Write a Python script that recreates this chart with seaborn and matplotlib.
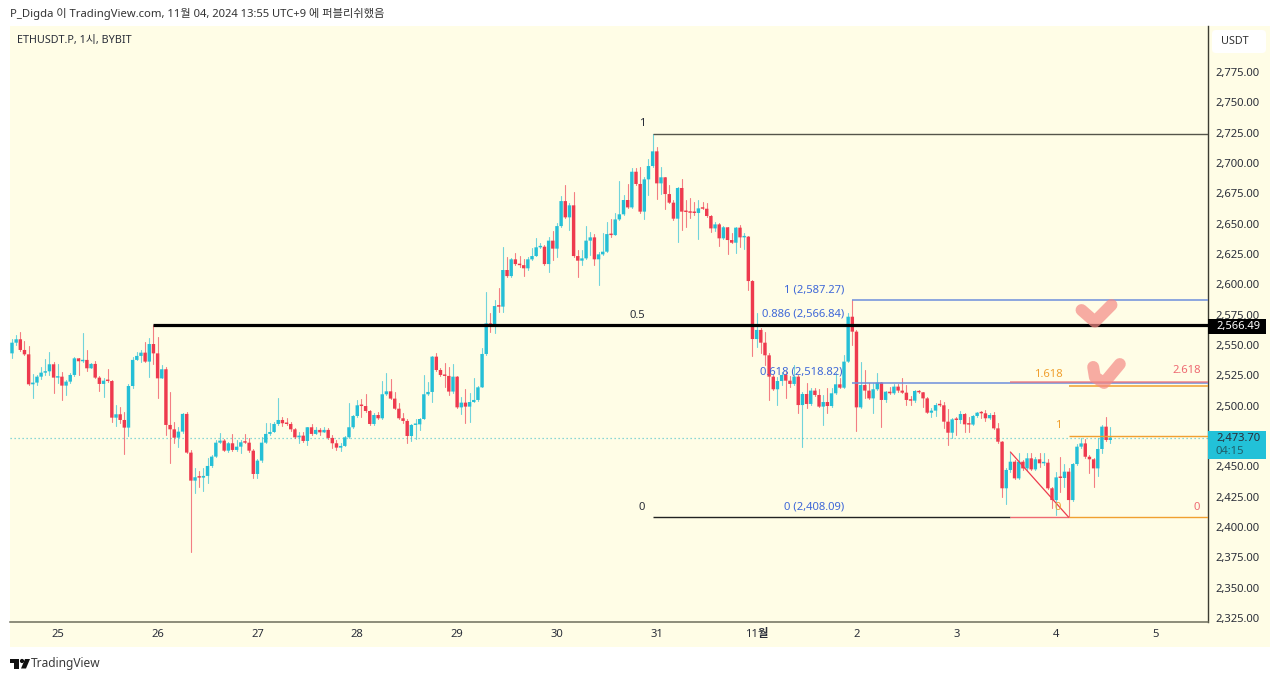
import numpy as np
import pandas as pd
import matplotlib
matplotlib.use("Agg")
import matplotlib.pyplot as plt
from matplotlib.patches import Rectangle, FancyBboxPatch, Polygon, Circle
from matplotlib.transforms import Affine2D
from matplotlib.ticker import FixedLocator, FixedFormatter
import seaborn as sns

first_open = 2543.1
closes = [
2551.9,2554.7,2545.9,2542.3,2517.6,2519.0,2523.9,2527.2,2528.3,2534.1,
2523.1,2523.9,2516.5,2519.8,2525.3,2539.0,2536.6,2537.7,2530.8,2534.4,
2523.1,2517.9,2520.6,2520.3,2490.1,2492.9,2488.2,2481.9,2516.2,2537.7,
2541.0,2543.7,2536.3,2550.8,2543.1,2522.5,2530.0,2484.1,2480.5,2473.6,
2478.6,2493.2,2461.3,2438.2,2441.0,2440.7,2442.1,2450.3,2458.0,2469.5,
2471.2,2462.9,2469.0,2463.5,2466.2,2469.8,2469.5,2462.9,2443.7,2454.7,
2469.5,2476.7,2478.3,2484.9,2488.2,2485.5,2484.9,2480.5,2473.9,2475.3,
2470.9,2482.2,2476.7,2480.0,2478.0,2480.0,2473.4,2469.0,2465.4,2466.8,
2473.9,2482.2,2491.5,2500.3,2499.7,2495.6,2484.9,2492.3,2489.6,2509.4,
2511.8,2505.8,2497.5,2489.6,2487.4,2475.0,2484.1,2484.6,2489.0,2509.4,
2511.3,2540.4,2529.4,2525.3,2524.5,2511.6,2523.9,2498.6,2502.5,2499.2,
2503.0,2504.7,2515.1,2542.6,2567.8,2566.5,2582.1,2581.6,2611.8,2606.8,
2620.6,2616.7,2615.8,2613.2,2620.6,2623.3,2630.5,2631.0,2616.7,2636.0,
2629.4,2648.0,2668.6,2655.2,2665.1,2623.3,2619.5,2621.4,2636.0,2638.7,
2620.6,2624.7,2626.9,2641.4,2640.6,2653.5,2657.7,2669.5,2663.4,2692.8,
2682.7,2659.9,2686.5,2697.5,2709.6,2683.2,2688.2,2674.4,2667.3,2654.1,
2679.4,2659.9,2659.6,2659.0,2658.8,2662.6,2662.3,2656.3,2646.1,2649.4,
2637.9,2647.0,2636.5,2634.3,2646.7,2638.7,2639.3,2602.7,2554.9,2562.4,
2551.9,2541.5,2523.9,2513.5,2520.3,2525.3,2520.6,2517.9,2523.9,2500.5,
2509.6,2501.4,2512.4,2508.8,2499.2,2503.0,2499.7,2510.2,2517.6,2514.8,
2536.3,2573.3,2561.0,2498.6,2517.0,2512.4,2506.0,2513.5,2519.0,2504.7,
2511.5,2510.2,2515.7,2512.4,2510.7,2504.7,2504.1,2512.1,2511.0,2506.0,
2494.2,2495.9,2500.5,2500.3,2486.8,2477.7,2488.7,2488.2,2493.1,2484.6,
2484.4,2491.5,2494.2,2493.7,2489.6,2492.3,2481.3,2470.3,2431.9,2447.0,
2453.8,2440.1,2453.8,2448.3,2456.6,2447.5,2455.8,2452.5,2453.0,2431.9,
2422.2,2440.9,2440.4,2445.6,2422.2,2451.9,2466.2,2468.9,2457.9,2455.8,
2448.3,2464.3,2482.7,2471.7,2473.7]
highs = [
2554.7,2558.3,2560.5,2553.6,2549.5,2526.1,2525.3,2532.2,2538.2,2544.0,
2536.3,2534.1,2528.0,2521.2,2527.2,2540.4,2539.0,2559.6,2545.9,2534.9,
2537.1,2524.5,2522.5,2530.2,2521.2,2500.6,2498.6,2495.1,2517.9,2540.4,
2544.5,2545.9,2552.8,2555.5,2566.5,2556.9,2533.5,2532.2,2511.6,2486.8,
2482.7,2494.3,2495.1,2463.5,2448.4,2446.4,2448.4,2456.6,2459.4,2471.7,
2477.2,2472.3,2470.4,2476.7,2471.7,2471.7,2476.4,2473.1,2464.0,2455.8,
2474.5,2485.5,2485.5,2486.8,2506.1,2491.0,2489.6,2486.8,2481.3,2478.6,
2478.6,2482.7,2484.9,2482.7,2481.3,2482.7,2481.3,2475.8,2471.7,2469.0,
2475.0,2502.0,2492.3,2504.7,2505.5,2509.6,2496.4,2493.7,2495.1,2520.6,
2526.7,2521.7,2511.6,2502.0,2493.7,2488.8,2484.9,2488.8,2489.6,2525.3,
2519.8,2541.0,2543.7,2530.8,2535.5,2532.2,2534.4,2524.5,2507.4,2513.5,
2510.2,2522.5,2516.2,2547.3,2593.9,2576.6,2587.1,2596.7,2631.0,2622.8,
2621.4,2625.5,2623.3,2620.6,2622.8,2629.6,2637.9,2633.8,2632.4,2639.3,
2644.2,2650.2,2672.8,2681.8,2666.7,2676.3,2628.3,2628.3,2648.0,2643.4,
2641.4,2626.9,2642.0,2651.6,2653.5,2658.5,2685.4,2673.6,2682.7,2695.6,
2695.6,2696.9,2688.2,2703.0,2724.3,2713.4,2696.9,2688.7,2681.8,2669.5,
2680.5,2686.5,2669.5,2670.8,2668.1,2669.5,2668.1,2666.7,2657.1,2651.6,
2650.2,2648.0,2647.5,2642.0,2647.5,2648.9,2642.0,2639.8,2603.6,2576.1,
2563.7,2561.0,2543.1,2525.3,2523.9,2528.0,2528.0,2524.4,2533.5,2525.3,
2511.5,2519.0,2514.3,2514.3,2513.5,2508.8,2514.3,2514.3,2526.6,2522.5,
2541.8,2576.1,2587.3,2562.4,2536.3,2529.4,2518.4,2518.4,2526.6,2519.8,
2512.4,2515.7,2517.9,2517.9,2522.5,2517.0,2508.0,2512.9,2512.9,2511.5,
2506.9,2497.8,2501.9,2504.7,2503.3,2497.0,2489.6,2490.9,2495.9,2493.7,
2490.9,2492.3,2495.0,2495.9,2496.4,2493.7,2495.0,2485.4,2471.1,2448.3,
2460.7,2455.2,2460.7,2455.2,2460.7,2460.7,2458.0,2460.7,2460.7,2455.8,
2433.2,2445.6,2458.0,2451.9,2448.3,2453.0,2468.4,2473.1,2472.2,2459.3,
2456.6,2473.1,2484.0,2490.9,2482.1]
lows = [
2539.3,2550.0,2545.3,2541.8,2517.0,2506.1,2517.0,2521.7,2525.3,2525.3,
2510.7,2518.4,2504.7,2508.8,2518.4,2524.5,2525.3,2536.3,2528.9,2530.8,
2522.5,2512.4,2507.4,2519.8,2486.8,2483.3,2485.5,2460.2,2475.0,2514.3,
2537.7,2536.3,2535.7,2523.4,2534.1,2506.6,2522.5,2475.8,2452.5,2469.0,
2465.7,2477.2,2460.7,2379.7,2427.8,2433.3,2430.0,2436.6,2449.8,2457.4,
2469.0,2462.7,2462.1,2462.9,2462.9,2461.3,2469.0,2462.1,2440.1,2440.1,
2453.9,2469.0,2475.8,2478.3,2484.1,2483.3,2484.1,2479.4,2473.1,2469.5,
2470.4,2467.6,2475.8,2476.7,2475.8,2478.6,2472.8,2464.9,2463.5,2462.9,
2466.8,2473.1,2481.3,2491.0,2490.4,2495.1,2484.1,2484.1,2488.8,2488.8,
2508.8,2505.2,2497.0,2488.8,2486.0,2469.0,2471.2,2472.3,2480.0,2488.8,
2508.8,2503.3,2528.9,2524.5,2515.1,2508.8,2510.7,2497.8,2493.2,2486.0,
2486.8,2503.3,2504.1,2515.1,2541.9,2561.0,2559.6,2577.4,2577.4,2606.3,
2606.3,2615.9,2614.5,2606.8,2611.8,2620.0,2623.3,2629.6,2615.9,2610.4,
2620.0,2622.2,2647.5,2654.4,2644.7,2622.8,2606.3,2615.9,2620.6,2624.1,
2615.9,2599.4,2624.1,2626.9,2639.3,2640.6,2653.0,2657.1,2662.6,2662.6,
2681.8,2659.0,2653.5,2673.6,2696.9,2670.0,2674.4,2661.8,2666.7,2653.0,
2635.1,2644.7,2647.5,2654.4,2657.1,2637.1,2661.8,2655.7,2643.4,2644.2,
2631.6,2637.1,2625.0,2633.8,2626.1,2630.5,2628.8,2595.3,2540.9,2548.6,
2543.1,2533.5,2504.7,2512.9,2500.5,2517.0,2506.0,2515.7,2517.0,2493.7,
2465.7,2497.8,2500.5,2508.0,2498.6,2484.1,2494.2,2499.2,2509.6,2514.3,
2514.3,2536.3,2550.0,2479.4,2497.8,2506.0,2505.2,2493.7,2512.9,2482.7,
2503.3,2509.6,2509.6,2511.5,2510.2,2500.5,2500.5,2503.3,2510.2,2499.2,
2493.7,2490.4,2491.5,2499.7,2481.3,2467.6,2473.1,2475.8,2486.0,2478.6,
2478.6,2484.1,2490.4,2489.6,2487.6,2488.7,2480.5,2469.5,2425.0,2418.9,
2445.6,2439.3,2439.3,2446.9,2446.9,2446.9,2446.9,2449.7,2451.1,2431.0,
2415.4,2409.9,2429.1,2433.2,2408.1,2421.7,2451.1,2464.8,2456.6,2444.8,
2432.7,2442.0,2460.7,2471.1,2468.9]

day_labels = ["25","26","27","28","29","30","31","11월","2","3","4","5"]
day_ticks = [11,35,59,83,107,131,155,179,203,227,251,275]
price_ticks = [2325,2350,2375,2400,2425,2450,2475,2500,2525,2550,2575,2600,2625,2650,
               2675,2700,2725,2750,2775]

last_price = 2473.70
black_level = 2566.49
fib_top = 2724.3
fib_bottom = 2408.09
blue_top = 2587.27
blue_618 = 2518.82
orange_1618 = 2516.6
red_2618 = 2519.5
orange_1 = 2474.6
apex_price = 2461.8
check1_x = [257.1,260.3,264.3]
check1_y = [2578.8,2569.2,2583.0]
check2_x = [259.9,260.3,262.5,266.3]
check2_y = [2531.9,2523.6,2518.7,2534.3]

UP = "#25BFD6"
DOWN = "#EE3A4E"
CREAM = "#FFFDE6"
BLUE = "#6E8FDC"
ORANGE = "#F0A030"
PINKRED = "#EE6A72"
TXT = "#2A2E39"

sns.set_theme(style="white", rc={"axes.grid": False})
plt.rcParams["font.family"] = ["Noto Sans", "Noto Sans CJK KR", "DejaVu Sans"]

fig = plt.figure(figsize=(12.8, 6.81), dpi=100, facecolor="white")
px = Affine2D().scale(1, -1).translate(0, 681)

ax = fig.add_axes([10/1280, 1-622/681, (1208-10)/1280, (622-26)/681])
ax.set_facecolor(CREAM)
fig.add_artist(Rectangle((10, 26), 1260, 621, transform=px, fc=CREAM, ec="none", zorder=-1))

n = len(closes)
opens = [first_open] + closes[:-1]
df = pd.DataFrame({"i": np.arange(n), "open": opens, "close": closes, "high": highs, "low": lows})
df["up"] = df["close"] >= df["open"]
df["bottom"] = df[["open", "close"]].min(axis=1)
df["body"] = (df["close"] - df["open"]).abs().clip(lower=1.2)

for flag, col in ((True, UP), (False, DOWN)):
    part = df[df["up"] == flag]
    wicks = part.melt(id_vars="i", value_vars=["high", "low"], value_name="price")
    sns.lineplot(data=wicks, x="i", y="price", units="i", estimator=None, color=col,
                 lw=0.8, alpha=0.65, ax=ax, legend=False, zorder=2)
    sns.barplot(data=part, x="i", y="body", bottom=part["bottom"].to_numpy(), native_scale=True,
                orient="x", color=col, saturation=1, width=0.82, errorbar=None, linewidth=0,
                snap=False, ax=ax, zorder=3)

ax.axhline(last_price, color="#3FBFC9", lw=0.9, ls=(0, (1, 2.2)), alpha=0.8, zorder=1)

ax.hlines(black_level, 34, 300, color="black", lw=2.3, zorder=5)
ax.hlines(fib_top, 154, 300, color="#55554A", lw=1, zorder=4)
ax.hlines(fib_bottom, 154, 240, color="#222222", lw=1, zorder=4)
ax.hlines(blue_top, 202, 300, color=BLUE, lw=1.1, zorder=4)
ax.hlines(blue_618, 202, 300, color=BLUE, lw=1.1, zorder=4)
ax.hlines(red_2618, 240, 300, color=PINKRED, lw=1.1, alpha=0.8, zorder=4)
ax.hlines(fib_bottom, 240, 254, color=PINKRED, lw=1, zorder=4)
ax.plot([240, 254], [apex_price, fib_bottom], color=DOWN, lw=0.9, zorder=4)
ax.hlines(orange_1618, 254, 300, color=ORANGE, lw=1.1, zorder=4)
ax.hlines(orange_1, 254, 300, color=ORANGE, lw=1, zorder=4)
ax.hlines(fib_bottom, 254, 300, color=ORANGE, lw=1, zorder=4)
for xs, ys in ((check1_x, check1_y), (check2_x, check2_y)):
    ax.plot(xs, ys, color="#F58A85", alpha=0.7, lw=8.6, solid_capstyle="round",
            solid_joinstyle="round", zorder=6)

ax.set_xlim(-0.48, 287.5)
ax.set_ylim(2321.7, 2812.9)
ax.set_xlabel("")
ax.set_ylabel("")
ax.yaxis.tick_right()
ax.yaxis.set_major_locator(FixedLocator(price_ticks))
ax.yaxis.set_major_formatter(FixedFormatter([f"{v:,.2f}" for v in price_ticks]))
ax.xaxis.set_major_locator(FixedLocator(day_ticks))
ax.xaxis.set_major_formatter(FixedFormatter(day_labels))
ax.tick_params(axis="y", length=0, pad=5.5, labelsize=8.1, labelcolor=TXT)
ax.tick_params(axis="x", length=0, pad=5, labelsize=8.1, labelcolor=TXT)
for lab in ax.get_xticklabels():
    if lab.get_text() == "11월":
        lab.set_fontweight("bold")
for s in ("top", "left"):
    ax.spines[s].set_visible(False)
ax.spines["bottom"].set_color("#6E6E5C")
ax.spines["bottom"].set_linewidth(1.1)
ax.spines["right"].set_color("#3C3C32")
ax.spines["right"].set_linewidth(1.0)


def T(x, y, s, size=8.1, color=TXT, ha="left", weight="normal", z=8):
    fig.text(x, y, s, transform=px, fontsize=size, color=color, ha=ha, va="center",
             fontweight=weight, zorder=z)


T(10, 14, "P_Digda 이 TradingView.com, 11월 04, 2024 13:55 UTC+9 에 퍼블리쉬했음", size=8.1, color="#333333")
T(17, 40, "ETHUSDT.P, 1시, BYBIT", size=7.8)
T(31, 664, "TradingView", size=8.6, color="#3A3A3A")

T(642, 123, "1", ha="center")
T(637, 315, "0.5", ha="center")
T(642, 507, "0", ha="center")
T(814, 290, "1 (2,587.27)", color="#3F68D8", ha="center")
T(803, 314.5, "0.886 (2,566.84)", color="#3F68D8", ha="center")
T(801, 372, "0.618 (2,518.82)", color="#3F68D8", ha="center")
T(814, 507, "0 (2,408.09)", color="#3F68D8", ha="center")
T(1048, 374.5, "1.618", color=ORANGE, ha="center")
T(1187, 370.5, "2.618", color=PINKRED, ha="center")
T(1058, 425, "1", color=ORANGE, ha="center")
T(1058, 507, "0", color=ORANGE, ha="center")
T(1197, 507, "0", color=PINKRED, ha="center")

fig.add_artist(FancyBboxPatch((1214, 32), 50, 19, boxstyle="round,pad=2,rounding_size=4", transform=px,
                              fc="white", ec="none", zorder=6))
T(1221, 41, "USDT", size=7.8, color="#333333")
fig.add_artist(Rectangle((1208, 319), 58, 15, transform=px, fc="black", ec="none", zorder=6))
T(1216, 326, "2,566.49", size=8, color="white", weight="bold")
fig.add_artist(Rectangle((1208, 431), 58, 28, transform=px, fc="#22C1D8", ec="none", zorder=6))
T(1216, 438, "2,473.70", color=TXT)
T(1216, 451, "04:15", color="#1F5F6B")

fig.add_artist(Polygon([(10, 659), (19, 659), (19, 668.5), (14, 668.5), (14, 663), (10, 663)],
                       transform=px, fc="#111111", ec="none"))
fig.add_artist(Circle((22, 661), 2.1, transform=px, fc="#111111", ec="none"))
fig.add_artist(Polygon([(25, 659), (30, 659), (26, 668.5), (21, 668.5)], transform=px, fc="#111111", ec="none"))

fig.savefig("out.png", dpi=100, facecolor="white")
